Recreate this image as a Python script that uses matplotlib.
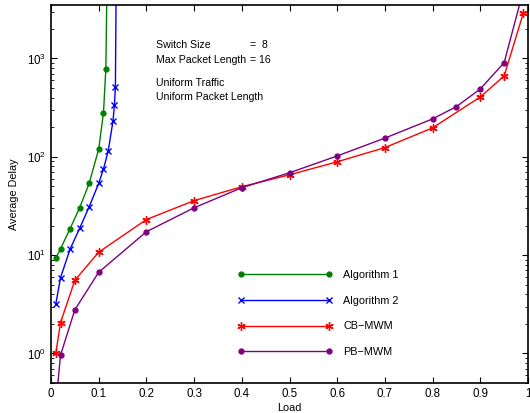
import numpy as np
import matplotlib
matplotlib.use("Agg")
import matplotlib.pyplot as plt

plt.rcParams['font.family'] = ['Liberation Sans', 'DejaVu Sans']
plt.rcParams['mathtext.default'] = 'regular'

alg1_load = [0.01, 0.02, 0.04, 0.06, 0.08, 0.10, 0.11, 0.115, 0.118]
alg1_delay = [9.3, 11.6, 18.6, 30.3, 53.6, 120, 280, 782, 10000]

alg2_load = [0.01, 0.02, 0.04, 0.06, 0.08, 0.10, 0.11, 0.12, 0.13, 0.133, 0.135, 0.137]
alg2_delay = [3.17, 5.9, 11.5, 18.7, 31, 53.6, 75, 115, 232, 337, 510, 10000]

cb_load = [0.01, 0.02, 0.05, 0.1, 0.2, 0.3, 0.4, 0.5, 0.6, 0.7, 0.8, 0.9, 0.95, 0.99]
cb_delay = [1.0, 2.06, 5.55, 10.7, 23, 35.8, 49.6, 65.6, 89, 124, 197, 406, 664, 2877]

pb_load = [0.01, 0.02, 0.05, 0.1, 0.2, 0.3, 0.4, 0.5, 0.6, 0.7, 0.8, 0.85, 0.9, 0.95, 0.995]
pb_delay = [0.3, 0.96, 2.78, 6.69, 17.3, 30.3, 48.5, 68.8, 102, 155, 243, 324, 490, 908, 6000]

fig = plt.figure(figsize=(5.3, 4.13), dpi=100)
ax = fig.add_axes([51 / 530, 1 - 383 / 413, 477 / 530, 378 / 413])

ast = (6, 2, 0)
ax.plot(alg1_load, alg1_delay, color='#008000', marker='o', ms=3.5, lw=1, label='Algorithm 1')
ax.plot(alg2_load, alg2_delay, color='#0000ff', marker='x', ms=5, mew=1, lw=1, label='Algorithm 2')
ax.plot(cb_load, cb_delay, color='#ff0000', marker=ast, ms=6, mew=1, lw=1, label='CB\u2212MWM')
ax.plot(pb_load, pb_delay, color='#800080', marker='o', ms=3.5, lw=1, label='PB\u2212MWM')

ax.set_yscale('log')
ax.set_xlim(0, 1)
ax.set_ylim(0.5, 3500)
ax.set_xticks(np.arange(0, 1.01, 0.1))
ax.set_xticklabels(['0', '0.1', '0.2', '0.3', '0.4', '0.5', '0.6', '0.7', '0.8', '0.9', '1'])
ax.tick_params(which='both', direction='in', top=True, right=True, labelsize=8.3)
ax.tick_params(which='major', length=4)
ax.tick_params(which='minor', length=2)
for s in ax.spines.values():
    s.set_linewidth(1.2)

ax.set_xlabel('Load', fontsize=7.8, labelpad=2)
ax.set_ylabel('Average Delay', fontsize=7.8, labelpad=6)

fs = 7.6
ax.text(105 / 477, 1 - 40 / 378, 'Switch Size', fontsize=fs, transform=ax.transAxes, va='center')
ax.text(199 / 477, 1 - 40 / 378, '=  8', fontsize=fs, transform=ax.transAxes, va='center')
ax.text(105 / 477, 1 - 55 / 378, 'Max Packet Length', fontsize=fs, transform=ax.transAxes, va='center')
ax.text(199 / 477, 1 - 55 / 378, '= 16', fontsize=fs, transform=ax.transAxes, va='center')
ax.text(105 / 477, 1 - 78 / 378, 'Uniform Traffic', fontsize=fs, transform=ax.transAxes, va='center')
ax.text(105 / 477, 1 - 92 / 378, 'Uniform Packet Length', fontsize=fs, transform=ax.transAxes, va='center')

ax.legend(loc='upper left', bbox_to_anchor=(187 / 477, 1 - 265 / 378), frameon=False,
          fontsize=7.8, numpoints=2, handlelength=8.7, handletextpad=1.0,
          labelspacing=1.45, borderpad=0, borderaxespad=0)

fig.savefig('out.png', dpi=100)
